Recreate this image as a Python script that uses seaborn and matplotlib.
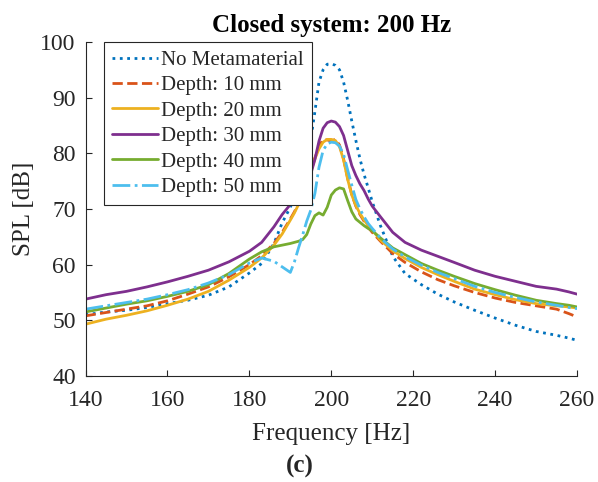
import numpy as np
import pandas as pd
import seaborn as sns
import matplotlib.pyplot as plt

# %% data
freq = [140, 145, 150, 155, 160, 165, 170, 175, 180, 183, 186, 188, 190, 191,
        192, 193, 194, 195, 196, 197, 198, 199, 200, 201, 202, 203, 204, 205,
        206, 207, 208, 209, 210, 212, 215, 218, 222, 226, 230, 235, 240, 245,
        250, 255, 258, 260]

spl_none = [51.0, 51.5, 51.8, 52.3, 53.0, 53.6, 54.5, 56.0, 58.5, 60.2, 63.8, 67.5,
            70.3, 72.2, 74.3, 76.5, 79.2, 82.5, 87.5, 92.8, 95.0, 96.0, 96.1, 95.8,
            95.0, 92.8, 89.5, 85.8, 82.3, 79.0, 76.2, 73.8, 71.3, 67.0, 61.5, 58.4,
            56.4, 54.7, 53.3, 51.8, 50.4, 49.1, 48.0, 47.3, 46.8, 46.4]
spl_d10 = [50.8, 51.4, 52.0, 52.6, 53.5, 54.7, 56.0, 57.8, 60.0, 61.6, 63.8, 65.8,
           68.2, 69.5, 71.0, 72.7, 74.7, 76.9, 79.2, 81.2, 82.5, 82.4, 82.2, 82.5,
           81.5, 79.0, 75.5, 72.6, 70.5, 69.0, 67.8, 66.7, 65.8, 64.2, 62.0, 60.4,
           58.7, 57.3, 56.2, 55.0, 54.0, 53.2, 52.6, 52.0, 51.2, 50.6]
spl_d20 = [49.3, 50.2, 50.9, 51.7, 52.7, 53.8, 55.2, 57.2, 59.5, 61.2, 63.5, 65.5,
           68.0, 69.3, 70.8, 72.5, 74.5, 76.7, 79.0, 80.8, 82.0, 82.5, 82.5, 82.3,
           81.2, 78.8, 75.3, 72.5, 70.6, 69.2, 68.0, 67.0, 66.2, 64.4, 62.5, 61.1,
           59.5, 58.2, 57.0, 55.6, 54.6, 53.7, 53.0, 52.6, 52.4, 52.2]
spl_d30 = [53.8, 54.6, 55.2, 56.0, 56.9, 57.9, 59.0, 60.5, 62.4, 64.0, 66.8, 69.0,
           70.8, 71.8, 72.8, 73.8, 74.8, 76.3, 78.9, 82.2, 84.5, 85.5, 85.8, 85.6,
           84.8, 83.2, 80.5, 77.8, 76.0, 74.5, 73.3, 71.8, 70.5, 68.6, 65.8, 64.0,
           62.6, 61.5, 60.4, 59.0, 57.9, 57.0, 56.1, 55.6, 55.1, 54.7]
spl_d40 = [51.5, 52.2, 52.9, 53.5, 54.3, 55.2, 56.4, 58.4, 61.0, 62.3, 63.2, 63.5,
           63.8, 64.0, 64.2, 64.5, 65.4, 67.3, 68.8, 69.3, 68.9, 70.3, 72.5, 73.4,
           73.8, 73.6, 71.5, 69.5, 68.2, 67.6, 67.0, 66.5, 66.1, 64.8, 63.0, 61.8,
           60.2, 59.0, 57.9, 56.6, 55.5, 54.5, 53.6, 53.0, 52.7, 52.4]
spl_d50 = [52.0, 52.6, 53.2, 53.8, 54.6, 55.5, 56.7, 58.2, 60.3, 61.2, 60.6, 59.6,
           58.6, 60.5, 63.0, 65.3, 67.8, 69.8, 72.8, 77.5, 80.5, 81.7, 82.0, 81.9,
           81.3, 79.8, 77.0, 74.3, 71.7, 70.0, 68.6, 67.4, 66.5, 64.8, 62.8, 61.4,
           59.9, 58.6, 57.5, 56.1, 55.0, 54.1, 53.3, 52.7, 52.3, 52.1]

labels = ["No Metamaterial", "Depth: 10 mm", "Depth: 20 mm",
          "Depth: 30 mm", "Depth: 40 mm", "Depth: 50 mm"]
series = [spl_none, spl_d10, spl_d20, spl_d30, spl_d40, spl_d50]
colors = ["#0072BD", "#D95319", "#EDB120", "#7E2F8E", "#77AC30", "#4DBEEE"]
styles = [":", "--", "-", "-", "-", "-."]

# %% plot
sns.set_theme(style="ticks")
plt.rcParams["font.family"] = ["Liberation Serif", "DejaVu Serif"]

fig = plt.figure(figsize=(5.98, 4.82), dpi=100)
ax = fig.add_axes([0.1430, 0.2200, 0.8220, 0.6929])

for vals, lab, c, ls in zip(series, labels, colors, styles):
    sns.lineplot(x=freq, y=vals, ax=ax, color=c, linestyle=ls,
                 linewidth=2.0, label=lab)

ax.set_xlim(140, 260)
ax.set_ylim(40, 100)
ax.set_xticks(np.arange(140, 261, 20))
ax.set_yticks(np.arange(40, 101, 10))
sns.despine(ax=ax)
for sp in ["left", "bottom"]:
    ax.spines[sp].set_color("#262626")
    ax.spines[sp].set_linewidth(0.8)
ax.tick_params(direction="in", length=4.5, width=0.8, colors="#262626",
               labelsize=17)
ax.tick_params(axis="x", pad=10)
ax.tick_params(axis="y", pad=7)

ax.set_xlabel("Frequency [Hz]", fontsize=18, color="#262626", labelpad=9)
ax.set_ylabel("SPL [dB]", fontsize=18, color="#262626", labelpad=4)
ax.set_title("Closed system: 200 Hz", fontsize=18, fontweight="bold",
             color="black", pad=7)
fig.text(300 / 598, 1 - 466 / 482, "(c)", fontsize=18, fontweight="bold",
         ha="center", va="center")

leg = ax.legend(loc="upper left", bbox_to_anchor=(0.037, 1.0), fontsize=15,
                frameon=True, fancybox=False, framealpha=1, edgecolor="#262626",
                handlelength=2.2, handletextpad=0.15, labelspacing=0.28,
                borderpad=0.4, borderaxespad=0)
leg.get_frame().set_linewidth(0.8)

fig.savefig("out.png", dpi=100)
